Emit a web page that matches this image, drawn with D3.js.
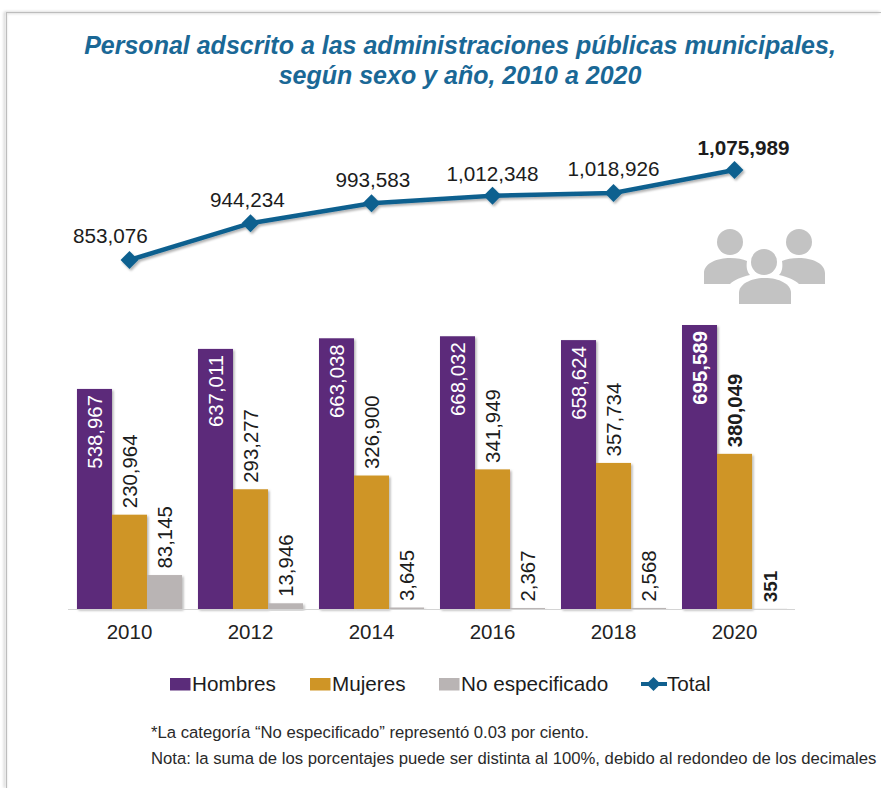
<!DOCTYPE html>
<html lang="es">
<head>
<meta charset="utf-8">
<script src="https://cdn.jsdelivr.net/npm/d3@7"></script>
<style>
  html, body { margin: 0; padding: 0; background: #fff; }
  svg { display: block; font-family: "Liberation Sans", Arial, sans-serif; }
</style>
</head>
<body>
<svg id="chart" width="881" height="788"></svg>
<script>
const years = ["2010", "2012", "2014", "2016", "2018", "2020"];
const hombres = [538967, 637011, 663038, 668032, 658624, 695589];
const mujeres = [230964, 293277, 326900, 341949, 357734, 380049];
const noEspecificado = [83145, 13946, 3645, 2367, 2568, 351];
const total = [853076, 944234, 993583, 1012348, 1018926, 1075989];
const seriesNames = ["Hombres", "Mujeres", "No especificado"];
const seriesColors = ["#5b2c7a", "#cf9526", "#b9b4b4"];
const lineColor = "#11608f";
const titleLines = [
  "Personal adscrito a las administraciones públicas municipales,",
  "según sexo y año, 2010 a 2020"
];
const notes = [
  "*La categoría “No especificado” representó 0.03 por ciento.",
  "Nota: la suma de los porcentajes puede ser distinta al 100%, debido al redondeo de los decimales"
];

const svg = d3.select("#chart");
const fmt = d3.format(",");

// Soft shadows for the frame, the bars and the line
const defs = svg.append("defs");
const shadow = defs.append("filter").attr("id", "soft")
  .attr("x", "-20%").attr("y", "-20%").attr("width", "150%").attr("height", "150%");
shadow.append("feDropShadow").attr("dx", 1.5).attr("dy", 1.5)
  .attr("stdDeviation", 1.2).attr("flood-color", "#000").attr("flood-opacity", 0.3);
const lineShadow = defs.append("filter").attr("id", "lineSoft")
  .attr("filterUnits", "userSpaceOnUse")
  .attr("x", 0).attr("y", 0).attr("width", 881).attr("height", 788);
lineShadow.append("feDropShadow").attr("dx", 1.5).attr("dy", 2)
  .attr("stdDeviation", 1.2).attr("flood-color", "#000").attr("flood-opacity", 0.3);
const frameShadow = defs.append("filter").attr("id", "frameSoft")
  .attr("filterUnits", "userSpaceOnUse")
  .attr("x", 0).attr("y", 0).attr("width", 881).attr("height", 788);
frameShadow.append("feDropShadow").attr("dx", -1.5).attr("dy", 0)
  .attr("stdDeviation", 1.5).attr("flood-color", "#000").attr("flood-opacity", 0.35);

// Page frame, open on the right and bottom edges
svg.append("path")
  .attr("d", "M6.5,788V12.5H881")
  .attr("fill", "none").attr("stroke", "#bdbdbd").attr("stroke-width", 1.2)
  .attr("filter", "url(#frameSoft)");

// Title
svg.append("g").selectAll("text").data(titleLines).join("text")
  .attr("x", 460).attr("y", (d, i) => 54 + i * 29.5)
  .attr("text-anchor", "middle")
  .attr("font-size", 25).attr("font-weight", "bold").attr("font-style", "italic")
  .attr("fill", "#1a6896")
  .text(d => d);

// Scales
const x0 = d3.scaleBand().domain(years).range([68.5, 795.5]).paddingInner(0.132).paddingOuter(0.07);
const x1 = d3.scaleBand().domain(seriesNames).range([0, x0.bandwidth()]);
const yBar = d3.scaleLinear().domain([0, 695589]).range([609, 325]);
const yLine = d3.scaleLinear().domain([853076, 1075989]).range([260, 170]);
const cx = d => x0(d) + x0.bandwidth() / 2;

// Bars
const valueSets = [hombres, mujeres, noEspecificado];
const barData = years.flatMap((year, i) => seriesNames.map((name, s) => ({
  year, name, s, i, value: valueSets[s][i]
})));

svg.append("g").selectAll("rect").data(barData).join("rect")
  .attr("x", d => x0(d.year) + x1(d.name))
  .attr("y", d => yBar(d.value))
  .attr("width", x1.bandwidth())
  .attr("height", d => yBar(0) - yBar(d.value))
  .attr("fill", d => seriesColors[d.s])
  .attr("filter", "url(#soft)");

// Horizontal axis with the year labels
const axis = svg.append("g").attr("transform", `translate(0,${yBar(0)})`)
  .call(d3.axisBottom(x0).tickSize(0).tickPadding(15));
axis.select(".domain").attr("stroke", "#d4d4d4").attr("stroke-width", 1)
  .attr("d", "M68,0.5H795");
axis.selectAll("text").attr("font-size", 20.5)
  .attr("font-family", "'Liberation Sans', Arial, sans-serif").attr("fill", "#222");

// Rotated value labels: inside the men's bars, above the other two
svg.append("g").selectAll("text").data(barData).join("text")
  .attr("transform", d => {
    const px = x0(d.year) + x1(d.name) + x1.bandwidth() / 2;
    const py = d.s === 0 ? yBar(d.value) + 6 : yBar(d.value) - 6.5;
    return `translate(${px + 7.5},${py}) rotate(-90)`;
  })
  .attr("text-anchor", d => d.s === 0 ? "end" : "start")
  .attr("font-size", d => d.value < 1000 ? 19 : 20.4)
  .attr("font-weight", d => d.i === 5 ? "bold" : "normal")
  .attr("fill", d => d.s === 0 ? "#fff" : "#1c1c1c")
  .text(d => fmt(d.value));

// Total line
const lineGen = d3.line().x((d, i) => cx(years[i])).y(d => yLine(d));
const lineLayer = svg.append("g").attr("filter", "url(#lineSoft)");
lineLayer.append("path").datum(total)
  .attr("d", lineGen).attr("fill", "none")
  .attr("stroke", lineColor).attr("stroke-width", 4.5);
lineLayer.selectAll("path.mark").data(total).join("path")
  .attr("class", "mark")
  .attr("transform", (d, i) => `translate(${cx(years[i])},${yLine(d)}) rotate(45)`)
  .attr("d", d3.symbol(d3.symbolSquare, 160))
  .attr("fill", lineColor);

// Labels for the total line
const totalLabelDx = [-19, -3, 1.5, 0, 0, 9];
const totalLabelDy = [17, 16, 16, 15, 17, 15];
svg.append("g").selectAll("text").data(total).join("text")
  .attr("x", (d, i) => cx(years[i]) + totalLabelDx[i])
  .attr("y", (d, i) => yLine(d) - totalLabelDy[i])
  .attr("text-anchor", "middle")
  .attr("font-size", 20.7)
  .attr("font-weight", (d, i) => i === 5 ? "bold" : "normal")
  .attr("fill", "#1c1c1c")
  .text(d => fmt(d));

// Group-of-people pictogram
const people = svg.append("g").attr("fill", "#c3c3c3");
[[730, 242], [799, 242], [764, 262]].forEach(([a, b]) =>
  people.append("circle").attr("cx", a).attr("cy", b).attr("r", 13));
people.append("path").attr("d", "M704,284V273C704,263 718,258 730,258C737,258 743,259 747,261C746,267 747,272 750,275C741,277 734,280 730,284Z");
people.append("path").attr("d", "M825,284V273C825,263 811,258 799,258C792,258 786,259 782,261C783,267 782,272 779,275C788,277 795,280 799,284Z");
people.append("path").attr("d", "M739,304V293C739,284 751,278 765,278C779,278 791,284 791,293V304Z");

// Legend
const legendX = [170, 310, 439];
const legendRow = svg.append("g");
seriesNames.forEach((name, i) => {
  legendRow.append("rect").attr("x", legendX[i]).attr("y", 678)
    .attr("width", 20.5).attr("height", 12.5).attr("fill", seriesColors[i]);
  legendRow.append("text").attr("x", legendX[i] + 22).attr("y", 691)
    .attr("font-size", 20.7).attr("fill", "#1c1c1c").text(name);
});
legendRow.append("line").attr("x1", 641).attr("x2", 667).attr("y1", 684).attr("y2", 684)
  .attr("stroke", lineColor).attr("stroke-width", 4);
legendRow.append("path").attr("transform", "translate(653.5,684) rotate(45)")
  .attr("d", d3.symbol(d3.symbolSquare, 100)).attr("fill", lineColor);
legendRow.append("text").attr("x", 667).attr("y", 691)
  .attr("font-size", 20.7).attr("fill", "#1c1c1c").text("Total");

// Footnotes
svg.append("g").selectAll("text").data(notes).join("text")
  .attr("x", 151).attr("y", (d, i) => 738 + i * 26)
  .attr("font-size", 16.7).attr("fill", "#2a2a2a")
  .text(d => d);
</script>
</body>
</html>
